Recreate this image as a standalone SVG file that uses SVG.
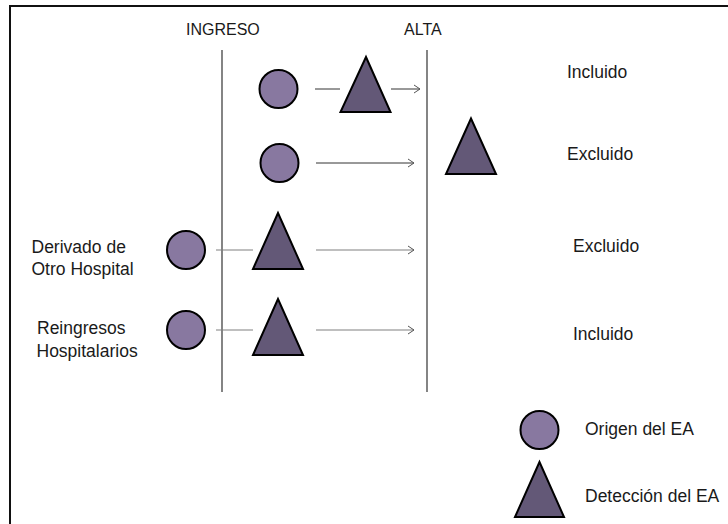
<svg xmlns="http://www.w3.org/2000/svg" width="728" height="524" viewBox="0 0 728 524">
<style>
.t{font-family:"Liberation Sans",Arial,sans-serif;font-size:17.5px;fill:#1a1a1a}
.h{font-family:"Liberation Sans",Arial,sans-serif;font-size:16px;fill:#1a1a1a}
.c{fill:#8878a0;stroke:#000;stroke-width:2}
.tri{fill:#635877;stroke:#000;stroke-width:2;stroke-linejoin:miter}
.ln{stroke:#333;stroke-width:1;fill:none}
.lg{stroke:#808080;stroke-width:1.2;fill:none}
.ax{stroke:#333;stroke-width:1.2}
</style>
<defs>
<marker id="ah" markerWidth="10" markerHeight="10" refX="7" refY="5" orient="auto" markerUnits="userSpaceOnUse">
<path d="M1,1 L7,5 L1,9" fill="none" stroke="#555" stroke-width="1"/>
</marker>
</defs>
<rect x="10" y="6" width="740" height="540" fill="#fff" stroke="#111" stroke-width="2"/>
<g id="axes">
<line class="ax" x1="222" y1="50" x2="222" y2="392"/>
<line class="ax" x1="427" y1="50" x2="427" y2="392"/>
<text class="h" x="186" y="35">INGRESO</text>
<text class="h" x="404" y="35">ALTA</text>
</g>
<g id="connectors">
<line class="ln" x1="315" y1="89" x2="340" y2="89"/>
<line class="ln" x1="391" y1="89" x2="420" y2="89" marker-end="url(#ah)"/>
<line class="ln" x1="316" y1="163" x2="414" y2="163" marker-end="url(#ah)"/>
<line class="lg" x1="216" y1="250" x2="253" y2="250"/>
<line class="lg" x1="316" y1="250" x2="414" y2="250" marker-end="url(#ah)"/>
<line class="lg" x1="216" y1="330" x2="253" y2="330"/>
<line class="lg" x1="316" y1="330" x2="414" y2="330" marker-end="url(#ah)"/>
</g>
<g id="row1">
<circle class="c" cx="278.5" cy="89" r="19"/>
<polygon class="tri" points="366,57 340.5,112 390.5,112"/>
<text class="t" x="567" y="78">Incluido</text>
</g>
<g id="row2">
<circle class="c" cx="279.5" cy="163" r="19"/>
<polygon class="tri" points="471,118.5 446,174 496,174"/>
<text class="t" x="567" y="160">Excluido</text>
</g>
<g id="row3">
<text class="t" x="31.5" y="253">Derivado de</text>
<text class="t" x="31.5" y="275">Otro Hospital</text>
<circle class="c" cx="186" cy="250" r="19"/>
<polygon class="tri" points="278,213 253,269 303,269"/>
<text class="t" x="573" y="252">Excluido</text>
</g>
<g id="row4">
<text class="t" x="37" y="334">Reingresos</text>
<text class="t" x="36.5" y="357">Hospitalarios</text>
<circle class="c" cx="186" cy="330" r="19"/>
<polygon class="tri" points="278,299 253,355 303,355"/>
<text class="t" x="573" y="340">Incluido</text>
</g>
<g id="legend">
<circle class="c" cx="539.5" cy="430" r="19"/>
<text class="t" x="585" y="435">Origen del EA</text>
<polygon class="tri" points="539.5,462 515,517 564,517"/>
<text class="t" x="585" y="502">Detección del EA</text>
</g>
</svg>
